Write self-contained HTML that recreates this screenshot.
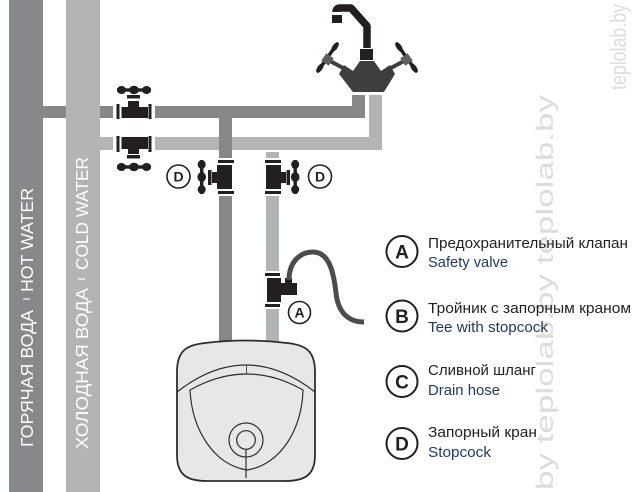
<!DOCTYPE html>
<html><head><meta charset="utf-8"><style>
html,body{margin:0;padding:0;background:#fff;}
svg{display:block;}
text{font-family:"Liberation Sans","DejaVu Sans",sans-serif;}
</style></head><body>
<svg width="640" height="492" viewBox="0 0 640 492" xmlns="http://www.w3.org/2000/svg">
<!-- watermarks -->
<g fill="#dcdcdc" font-size="24">
<text transform="translate(553,490) rotate(-90)" textLength="395" lengthAdjust="spacingAndGlyphs">by  teplolab.by  teplolab.by</text>
<text transform="translate(626,90) rotate(-90)" font-size="22" textLength="86" lengthAdjust="spacingAndGlyphs">teplolab.by</text>
</g>

<!-- main vertical pipes -->
<rect x="9" y="0" width="34" height="492" fill="#87888a"/>
<rect x="43" y="106" width="23" height="12" fill="#87888a"/>
<rect x="66" y="0" width="34" height="492" fill="#b3b4b6"/>

<!-- hot horizontal -->
<rect x="100" y="106" width="13" height="12" fill="#87888a"/>
<rect x="155" y="106" width="210" height="12" fill="#87888a"/>
<rect x="352" y="95" width="13" height="23" fill="#87888a"/>
<!-- cold horizontal -->
<rect x="100" y="137" width="13" height="13" fill="#b3b4b6"/>
<rect x="155" y="137" width="227" height="13" fill="#b3b4b6"/>
<rect x="369" y="95" width="13" height="55" fill="#b3b4b6"/>

<!-- branches -->
<rect x="219" y="118" width="13" height="40" fill="#87888a"/>
<rect x="219" y="196" width="13" height="147" fill="#87888a"/>
<rect x="266" y="152" width="13" height="6" fill="#b3b4b6"/>
<rect x="266" y="196" width="13" height="75" fill="#b3b4b6"/>
<rect x="266" y="309" width="13" height="34" fill="#b3b4b6"/>

<g fill="#231f20">
<!-- hot valve (top) -->
<rect x="116.5" y="104" width="3" height="15"/>
<rect x="148.5" y="104" width="3" height="15"/>
<rect x="121.5" y="107" width="26.5" height="11"/>
<rect x="128" y="101" width="11" height="7"/>
<rect x="127" y="95" width="13" height="3.5"/>
<rect x="117" y="88.3" width="34" height="3.4"/>
<ellipse cx="121.5" cy="90" rx="4.5" ry="4"/>
<ellipse cx="134" cy="90" rx="5" ry="4.2"/>
<ellipse cx="146.5" cy="90" rx="4.5" ry="4"/>

<!-- cold valve (bottom) -->
<rect x="116.5" y="136" width="3" height="16"/>
<rect x="148.5" y="136" width="3" height="16"/>
<rect x="121.5" y="137" width="26.5" height="12"/>
<rect x="128" y="148" width="11" height="6"/>
<rect x="127" y="155" width="13" height="3.5"/>
<rect x="117" y="165.3" width="34" height="3.4"/>
<ellipse cx="121.5" cy="167" rx="4.5" ry="4"/>
<ellipse cx="134" cy="167" rx="5" ry="4.2"/>
<ellipse cx="146.5" cy="167" rx="4.5" ry="4"/>

<!-- D valve on hot branch -->
<rect x="218" y="160" width="16" height="3"/>
<rect x="218" y="191" width="16" height="3"/>
<rect x="217" y="165" width="15" height="24"/>
<rect x="212" y="172" width="6" height="11"/>
<rect x="208" y="170" width="3.5" height="15"/>
<rect x="200" y="160" width="3.4" height="34"/>
<ellipse cx="201.7" cy="164.5" rx="4" ry="4.5"/>
<ellipse cx="201.7" cy="177" rx="4.3" ry="5"/>
<ellipse cx="201.7" cy="189.5" rx="4" ry="4.5"/>

<!-- D valve on cold branch -->
<rect x="265" y="160" width="16" height="3"/>
<rect x="265" y="191" width="16" height="3"/>
<rect x="266" y="165" width="15" height="24"/>
<rect x="280" y="172" width="6" height="11"/>
<rect x="286.5" y="170" width="3.5" height="15"/>
<rect x="293.5" y="160" width="3.4" height="34"/>
<ellipse cx="295.2" cy="164.5" rx="4" ry="4.5"/>
<ellipse cx="295.2" cy="177" rx="4.3" ry="5"/>
<ellipse cx="295.2" cy="189.5" rx="4" ry="4.5"/>

<!-- safety valve A -->
<rect x="265" y="273" width="15" height="3"/>
<rect x="265" y="304" width="15" height="3"/>
<rect x="267" y="278" width="14" height="24"/>
<rect x="280" y="283" width="17" height="12"/>
<rect x="285" y="278" width="7" height="5"/>
</g>

<!-- drain hose -->
<path d="M289,280 C289,262 300,252 313,252 C330,252 334,275 336,293 C338,312 348,322 364,322" fill="none" stroke="#4b4c4e" stroke-width="5"/>

<!-- faucet -->
<g>
<rect x="332" y="15" width="10" height="8" fill="#231f20"/>
<path d="M367,48 L367,26 L351,8 L340,8 Q336,8 336,12" fill="none" stroke="#231f20" stroke-width="7.5" stroke-linejoin="round"/>
<rect x="360" y="49" width="13" height="11" fill="#231f20"/>
<line x1="328" y1="60" x2="345" y2="69" stroke="#3d3e40" stroke-width="4"/>
<line x1="406" y1="60" x2="389" y2="69" stroke="#3d3e40" stroke-width="4"/>
<line x1="337" y1="44" x2="318" y2="71" stroke="#231f20" stroke-width="3.5" stroke-linecap="round"/>
<ellipse cx="335" cy="47" rx="2.6" ry="5.5" transform="rotate(35 335 47)" fill="#231f20"/>
<ellipse cx="320" cy="68" rx="2.6" ry="5.5" transform="rotate(35 320 68)" fill="#231f20"/>
<line x1="397" y1="44" x2="416" y2="71" stroke="#231f20" stroke-width="3.5" stroke-linecap="round"/>
<ellipse cx="399" cy="47" rx="2.6" ry="5.5" transform="rotate(-35 399 47)" fill="#231f20"/>
<ellipse cx="414" cy="68" rx="2.6" ry="5.5" transform="rotate(-35 414 68)" fill="#231f20"/>
<rect x="323" y="55" width="9" height="9" fill="#5d5e60" transform="rotate(35 327.5 59.5)"/>
<rect x="402" y="55" width="9" height="9" fill="#5d5e60" transform="rotate(-35 406.5 59.5)"/>
<polygon points="344,65 353,71 360,61 374,61 381,71 390,65 395,74 384,92 353,92 339,74" fill="#3d3e40"/>
</g>

<!-- boiler -->
<g stroke="#2e2e2e" stroke-width="1.4" fill="none">
<path d="M177,372 C177,352 185,345 205,343 Q246,338 287,343 C307,345 315,352 315,372 L315,455 C315,475 305,481 285,481 L207,481 C187,481 177,475 177,455 Z" fill="#e6e7e8" stroke-width="1.8"/>
<path d="M177,392 Q246,338 315,392" stroke-width="1.2"/>
<path d="M190,390 Q247,358 303,390 C302,430 280,465 247,470 C214,465 192,430 190,390 Z" stroke-width="1.2"/>
<line x1="246.5" y1="365" x2="246.5" y2="374" stroke-width="0.8"/>
<circle cx="246" cy="440" r="17" stroke-width="1.2"/>
<circle cx="246" cy="440" r="9.3" stroke-width="1.2"/>
<line x1="246" y1="449.5" x2="246" y2="478" stroke-width="1.2"/>
</g>

<!-- small D / A callouts -->
<g fill="#fff" stroke="#231f20" stroke-width="1.6">
<circle cx="178.5" cy="176.5" r="11.5"/>
<circle cx="320" cy="176.5" r="11.5"/>
<circle cx="299.5" cy="312.5" r="11"/>
</g>
<g fill="#231f20" font-weight="bold" font-size="14" text-anchor="middle">
<text x="178.5" y="181.5">D</text>
<text x="320" y="181.5">D</text>
<text x="299.5" y="317.5">A</text>
</g>

<!-- pipe labels -->
<g fill="#ffffff" font-size="17.5">
<text transform="translate(33,447) rotate(-90)" textLength="137" lengthAdjust="spacingAndGlyphs">ГОРЯЧАЯ ВОДА</text>
<text transform="translate(33,292) rotate(-90)" textLength="104" lengthAdjust="spacingAndGlyphs">HOT WATER</text>
<text transform="translate(88,449) rotate(-90)" textLength="161" lengthAdjust="spacingAndGlyphs">ХОЛОДНАЯ ВОДА</text>
<text transform="translate(88,270) rotate(-90)" textLength="113" lengthAdjust="spacingAndGlyphs">COLD WATER</text>
</g>
<line x1="23" y1="299" x2="30" y2="299" stroke="#fff" stroke-width="1.2"/>
<line x1="78" y1="279" x2="85" y2="279" stroke="#fff" stroke-width="1.2"/>

<!-- legend -->
<g fill="#fff" stroke="#231f20" stroke-width="2">
<circle cx="402" cy="251.5" r="15.5"/>
<circle cx="402" cy="316" r="15.5"/>
<circle cx="402" cy="381.5" r="15.5"/>
<circle cx="402" cy="443.5" r="15.5"/>
</g>
<g fill="#231f20" font-weight="bold" font-size="19" text-anchor="middle">
<text x="402" y="258.5">A</text>
<text x="402" y="323">B</text>
<text x="402" y="388.5">C</text>
<text x="402" y="450.5">D</text>
</g>
<g font-size="15">
<text x="428" y="248" fill="#231f20" textLength="200" lengthAdjust="spacingAndGlyphs">Предохранительный клапан</text>
<text x="428" y="267" fill="#213a66" textLength="80" lengthAdjust="spacingAndGlyphs">Safety valve</text>
<text x="428" y="313" fill="#231f20" textLength="203" lengthAdjust="spacingAndGlyphs">Тройник с запорным краном</text>
<text x="428" y="332" fill="#213a66" textLength="120" lengthAdjust="spacingAndGlyphs">Tee with stopcock</text>
<text x="428" y="375" fill="#231f20" textLength="108" lengthAdjust="spacingAndGlyphs">Сливной шланг</text>
<text x="428" y="395" fill="#213a66" textLength="72" lengthAdjust="spacingAndGlyphs">Drain hose</text>
<text x="428" y="437" fill="#231f20" textLength="109" lengthAdjust="spacingAndGlyphs">Запорный кран</text>
<text x="428" y="457" fill="#213a66" textLength="63" lengthAdjust="spacingAndGlyphs">Stopcock</text>
</g>
</svg>
</body></html>
